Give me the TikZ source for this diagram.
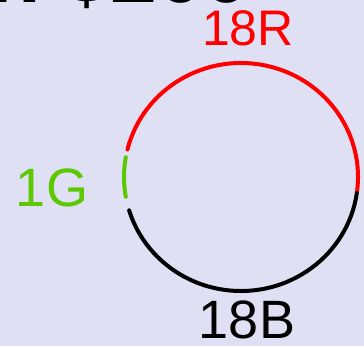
\documentclass[tikz,border=0pt]{standalone}
\usepackage{fontspec}
\setmainfont{Liberation Sans}
\usetikzlibrary{positioning, calc}
\definecolor{board}{HTML}{E0E0F4}
\definecolor{redarc}{HTML}{FF0000}
\definecolor{greenarc}{HTML}{5CC800}
\definecolor{ink}{HTML}{000000}

\begin{document}
\begin{tikzpicture}[x=1pt, y=-1pt,
      every node/.style={inner sep=0pt},
      arcline/.style={line width=4pt, line cap=round},
      tag/.style={font=\fontsize{54}{54}\selectfont, anchor=base}]

    \useasboundingbox (0,0) rectangle (364,346);
    \fill[board] (0,0) rectangle (364,346);
    \clip (0,0) rectangle (364,346);

    % title, cut off by the top edge
    \node[anchor=base west, font=\fontsize{84}{84}\selectfont\bfseries, text=ink]
      (title) at (-11,2) {n \$200};

    \coordinate (c) at (241,177);

    % the three arcs of the circle
    \draw[arcline, redarc] ($(c)+(-166:117 and 114)$)
      arc[start angle=-166, end angle=8, x radius=117, y radius=114];
    \draw[arcline, greenarc] ($(c)+(170:117 and 114)$)
      arc[start angle=170, end angle=190, x radius=117, y radius=114];
    \draw[arcline, ink] ($(c)+(8:117 and 114)$)
      arc[start angle=8, end angle=163, x radius=117, y radius=114];

    % labels
    \node[tag, text=redarc, font=\fontsize{50}{50}\selectfont] (red) at (248,45) {18R};
    \node[tag, text=greenarc] (green) at (52,206) {1G};
    \node[tag, text=ink] (black) at (247,338) {18B};
  \end{tikzpicture}
\end{document}
